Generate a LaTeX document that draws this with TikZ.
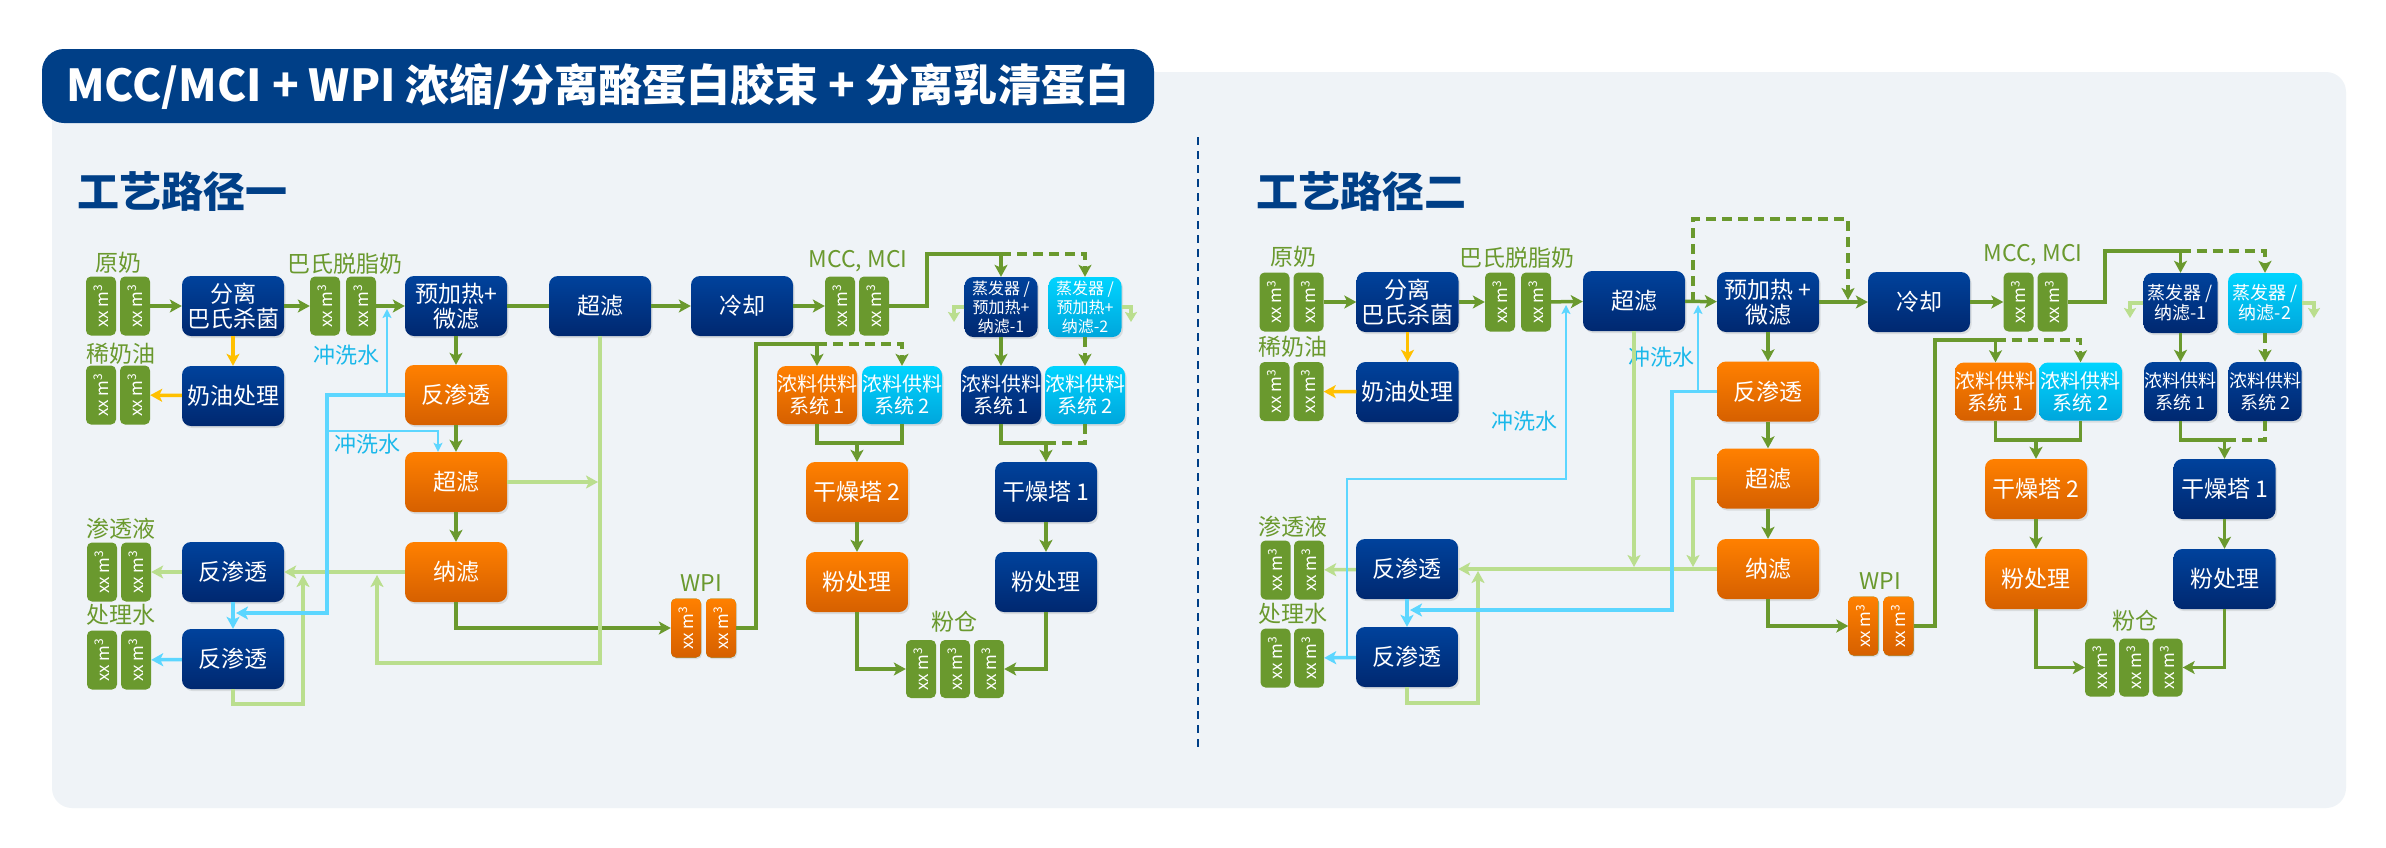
\documentclass[tikz,border=0pt]{standalone}
\usepackage{fontspec}
\usepackage{graphicx}
\setmainfont{Noto Sans CJK SC}
\usepackage{tikz}
\usetikzlibrary{positioning,arrows.meta,shadows}

\definecolor{navy}{RGB}{0,63,135}
\definecolor{boxtop}{RGB}{0,66,156}
\definecolor{boxbot}{RGB}{0,40,112}
\definecolor{ortop}{RGB}{255,128,0}
\definecolor{orbot}{RGB}{214,96,0}
\definecolor{cytop}{RGB}{0,212,255}
\definecolor{cybot}{RGB}{0,166,220}
\definecolor{leaf}{RGB}{106,153,46}
\definecolor{pale}{RGB}{186,222,142}
\definecolor{sky}{RGB}{92,214,255}
\definecolor{skytext}{RGB}{26,184,234}
\definecolor{amber}{RGB}{255,192,0}
\definecolor{panel}{RGB}{239,243,247}

\newcommand{\tankvol}{\rotatebox{90}{xx m\textsuperscript{3}}}

\tikzstyle{box} = [rectangle, rounded corners=9pt, align=center, text=white, inner sep=0pt, minimum width=102pt, minimum height=60pt, font=\fontsize{23}{25}\selectfont, drop shadow={shadow xshift=1.5pt, shadow yshift=-2pt, opacity=0.2}]
\tikzstyle{navybox} = [box, top color=boxtop, bottom color=boxbot]
\tikzstyle{orangebox} = [box, top color=ortop, bottom color=orbot]
\tikzstyle{cyanbox} = [box, top color=cytop, bottom color=cybot]
\tikzstyle{evap} = [minimum width=73pt, font=\fontsize{16}{19}\selectfont]
\tikzstyle{evaptwo} = [minimum width=74pt, font=\fontsize{18}{20}\selectfont]
\tikzstyle{feed} = [minimum width=80pt, minimum height=58pt, font=\fontsize{20}{22}\selectfont]
\tikzstyle{feedsmall} = [minimum width=73pt, minimum height=59pt, font=\fontsize{18}{22}\selectfont]
\tikzstyle{tank} = [rectangle, rounded corners=5pt, fill=leaf, text=white, minimum width=30pt, minimum height=59pt, inner sep=0pt, font=\fontsize{17}{17}\selectfont]
\tikzstyle{otank} = [tank, top color=ortop, bottom color=orbot, drop shadow={shadow xshift=1pt, shadow yshift=-1.5pt, opacity=0.2}]
\tikzstyle{tag} = [text=leaf, inner sep=0pt, font=\fontsize{23}{25}\selectfont]
\tikzstyle{wash} = [text=skytext, inner sep=0pt, font=\fontsize{22}{24}\selectfont]
\tikzstyle{head} = [text=navy, inner sep=0pt, font=\fontsize{42}{46}\selectfont\bfseries]
\tikzstyle{pipe} = [draw=leaf, line width=3.5pt]
\tikzstyle{flow} = [pipe, -{Stealth[length=12pt,width=13pt,inset=3pt]}]
\tikzstyle{dpipe} = [pipe, dash pattern=on 10pt off 6pt]
\tikzstyle{dflow} = [flow, dash pattern=on 10pt off 6pt]
\tikzstyle{back} = [draw=pale, line width=3.5pt, -{Stealth[length=12pt,width=13pt,inset=3pt]}]
\tikzstyle{drain} = [draw=pale, line width=3.5pt, -{Stealth[length=10pt,width=12pt,inset=2pt]}]
\tikzstyle{water} = [draw=sky, line width=3.5pt, -{Stealth[length=12pt,width=13pt,inset=3pt]}]
\tikzstyle{rinse} = [draw=sky, line width=2pt, -{Stealth[length=9pt,width=9pt,inset=2pt]}]
\tikzstyle{cream} = [draw=amber, line width=3.5pt, -{Stealth[length=12pt,width=13pt,inset=3pt]}]

\begin{document}
\begin{tikzpicture}[x=1pt, y=-1pt]
	\useasboundingbox (0,0) rectangle (2386,847);
	\fill [white] (0,0) rectangle (2386,847);
	\fill [panel, rounded corners=20pt] (52,72) rectangle (2346,808);
	\node (title) [fill=navy, rounded corners=22pt, minimum width=1112pt, minimum height=74pt, inner sep=0pt, text=white, font=\fontsize{44}{48}\selectfont\bfseries] at (598,86) {MCC/MCI + WPI 浓缩/分离酪蛋白胶束 + 分离乳清蛋白};
	\draw [navy, line width=2pt, dash pattern=on 8pt off 6pt] (1198,137) -- (1198,750);

	% route one
	\node (h1) [head, anchor=west] at (77,192) {工艺路径一};
	\node (a_raw1) [tank] at (101,306) {\tankvol};
	\node (a_raw2) [tank] at (135,306) {\tankvol};
	\node (a_rawlbl) [tag] at (118,263) {原奶};
	\node (a_sep) [navybox] at (233,306) {分离\\巴氏杀菌};
	\node (a_skim1) [tank] at (325,306) {\tankvol};
	\node (a_skim2) [tank] at (361,306) {\tankvol};
	\node (a_skimlbl) [tag] at (345,264) {巴氏脱脂奶};
	\node (a_mf) [navybox] at (456,306) {预加热+\\微滤};
	\node (a_uf) [navybox] at (600,306) {超滤};
	\node (a_cool) [navybox] at (742,306) {冷却};
	\node (a_mcc1) [tank] at (840,306) {\tankvol};
	\node (a_mcc2) [tank] at (874,306) {\tankvol};
	\node (a_mcclbl) [tag] at (858,261) {MCC, MCI};
	\node (a_ev1) [navybox, evap] at (1001,307) {蒸发器 /\\预加热+\\纳滤-1};
	\node (a_ev2) [cyanbox, evap] at (1085,307) {蒸发器 /\\预加热+\\纳滤-2};
	\node (a_crmp) [navybox] at (233,396) {奶油处理};
	\node (a_crm1) [tank] at (101,395) {\tankvol};
	\node (a_crm2) [tank] at (135,395) {\tankvol};
	\node (a_crmlbl) [tag] at (121,354) {稀奶油};
	\node (a_wash1) [wash] at (346,355) {冲洗水};
	\node (a_ro) [orangebox] at (456,395) {反渗透};
	\node (a_uf2) [orangebox] at (456,482) {超滤};
	\node (a_nf) [orangebox] at (456,572) {纳滤};
	\node (a_wash2) [wash] at (367,444) {冲洗水};
	\node (a_ro1) [navybox] at (233,572) {反渗透};
	\node (a_ro2) [navybox] at (233,659) {反渗透};
	\node (a_perm1) [tank] at (102,572) {\tankvol};
	\node (a_perm2) [tank] at (136,572) {\tankvol};
	\node (a_permlbl) [tag] at (121,529) {渗透液};
	\node (a_tw1) [tank] at (102,660) {\tankvol};
	\node (a_tw2) [tank] at (136,660) {\tankvol};
	\node (a_twlbl) [tag] at (121,615) {处理水};
	\node (a_wpi1) [otank] at (686,628) {\tankvol};
	\node (a_wpi2) [otank] at (721,628) {\tankvol};
	\node (a_wpilbl) [tag] at (701,583) {WPI};
	\node (a_cf1) [orangebox, feed] at (817,395) {浓料供料\\系统 1};
	\node (a_cf2) [cyanbox, feed] at (902,395) {浓料供料\\系统 2};
	\node (a_cf3) [navybox, feed, minimum width=72pt] at (1001,395) {浓料供料\\系统 1};
	\node (a_cf4) [cyanbox, feed, minimum width=72pt] at (1085,395) {浓料供料\\系统 2};
	\node (a_dry2) [orangebox] at (857,492) {干燥塔 2};
	\node (a_pow2) [orangebox] at (857,582) {粉处理};
	\node (a_dry1) [navybox] at (1046,492) {干燥塔 1};
	\node (a_pow1) [navybox] at (1046,582) {粉处理};
	\node (a_silo1) [tank, minimum height=58pt] at (921,669) {\tankvol};
	\node (a_silo2) [tank, minimum height=58pt] at (955,669) {\tankvol};
	\node (a_silo3) [tank, minimum height=58pt] at (989,669) {\tankvol};
	\node (a_silolbl) [tag] at (954,622) {粉仓};

	\coordinate (a_j1) at (1001,254);
	\coordinate (a_j2) at (1046,443);
	\coordinate (a_j3) at (857,443);
	\coordinate (a_j4) at (817,344);
	\coordinate (a_j5) at (377,575);
	\coordinate (a_j6) at (598,482);
	\coordinate (a_j7) at (303,575);
	\coordinate (a_j8) at (236,613);
	\coordinate (a_j9) at (387,395);
	\coordinate (a_j10) at (387,309);
	\coordinate (a_j11) at (327,431);
	\coordinate (a_out1) at (954,322);
	\coordinate (a_out2) at (1131,322);

	\draw [flow] (a_raw2) -- (a_sep);
	\draw [flow] (a_sep) -- (a_skim1);
	\draw [flow] (a_skim2) -- (a_mf);
	\draw [pipe] (a_mf) -- (a_uf);
	\draw [flow] (a_uf) -- (a_cool);
	\draw [flow] (a_cool) -- (a_mcc1);
	\draw [flow] (a_mcc2.east) -- (927,306) -- (927,254) -| (a_ev1.north);
	\draw [dflow] (a_j1) -| (a_ev2.north);
	\draw [drain] (a_ev1.west) -| (a_out1);
	\draw [drain] (a_ev2.east) -| (a_out2);
	\draw [flow] (a_ev1) -- (a_cf3);
	\draw [dflow] (a_ev2) -- (a_cf4);
	\draw [flow] (a_cf3.south) |- (a_j2) -- (a_dry1.north);
	\draw [dpipe] (a_cf4.south) |- (a_j2);
	\draw [pipe] (a_cf1.south) |- (a_j3) -| (a_cf2.south);
	\draw [flow] (a_j3) -- (a_dry2);
	\draw [flow] (a_dry2) -- (a_pow2);
	\draw [flow] (a_dry1) -- (a_pow1);
	\draw [flow] (a_pow2) |- (a_silo1);
	\draw [flow] (a_pow1) |- (a_silo3);
	\draw [flow] (a_nf) |- (a_wpi1);
	\draw [flow] (a_wpi2.east) -- (756,628) -- (756,344) -| (a_cf1.north);
	\draw [dflow] (a_j4) -| (a_cf2.north);
	\draw [flow] (a_mf) -- (a_ro);
	\draw [flow] (a_ro) -- (a_uf2);
	\draw [flow] (a_uf2) -- (a_nf);
	\draw [cream] (a_sep) -- (a_crmp);
	\draw [cream] (a_crmp) -- (a_crm2);
	\draw [back] (a_uf.south) -- (600,663) -| (a_j5);
	\draw [back] (a_uf2) -- (a_j6);
	\draw [back] (a_nf) -- (a_ro1);
	\draw [back] (a_ro2.south) -- (233,704) -| (a_j7);
	\draw [back] (a_ro1) -- (a_perm2);
	\draw [water] (a_ro2) -- (a_tw2);
	\draw [water] (a_ro1) -- (a_ro2);
	\draw [water] (a_ro.west) -| (327,613) -- (a_j8);
	\draw [rinse] (a_j9) -- (a_j10);
	\draw [rinse] (a_j11) -| ([xshift=-18pt]a_uf2.north);

	% route two
	\node (h2) [head, anchor=west] at (1256,192) {工艺路径二};
	\node (b_raw1) [tank] at (1274.5,302) {\tankvol};
	\node (b_raw2) [tank] at (1308.5,302) {\tankvol};
	\node (b_rawlbl) [tag] at (1293,257) {原奶};
	\node (b_sep) [navybox] at (1407.5,302) {分离\\巴氏杀菌};
	\node (b_skim1) [tank] at (1500,302) {\tankvol};
	\node (b_skim2) [tank] at (1536,302) {\tankvol};
	\node (b_skimlbl) [tag] at (1517,258) {巴氏脱脂奶};
	\node (b_uf) [navybox] at (1634,301) {超滤};
	\node (b_mf) [navybox] at (1768,302) {预加热 +\\微滤};
	\node (b_cool) [navybox] at (1919,302) {冷却};
	\node (b_mcc1) [tank] at (2018.5,302) {\tankvol};
	\node (b_mcc2) [tank] at (2052.5,302) {\tankvol};
	\node (b_mcclbl) [tag] at (2033,255) {MCC, MCI};
	\node (b_ev1) [navybox, evaptwo] at (2180.5,303) {蒸发器 /\\纳滤-1};
	\node (b_ev2) [cyanbox, evaptwo] at (2265,303) {蒸发器 /\\纳滤-2};
	\node (b_crmp) [navybox] at (1407.5,392) {奶油处理};
	\node (b_crm1) [tank] at (1274.5,391.5) {\tankvol};
	\node (b_crm2) [tank] at (1308.5,391.5) {\tankvol};
	\node (b_crmlbl) [tag] at (1293,347) {稀奶油};
	\node (b_wash1) [wash] at (1524,421) {冲洗水};
	\node (b_wash2) [wash] at (1661,357) {冲洗水};
	\node (b_ro) [orangebox] at (1768,391.5) {反渗透};
	\node (b_uf2) [orangebox] at (1768,478.5) {超滤};
	\node (b_nf) [orangebox] at (1768,569) {纳滤};
	\node (b_ro1) [navybox] at (1407,569) {反渗透};
	\node (b_ro2) [navybox] at (1407,657) {反渗透};
	\node (b_perm1) [tank] at (1275.5,570) {\tankvol};
	\node (b_perm2) [tank] at (1309,570) {\tankvol};
	\node (b_permlbl) [tag] at (1293,527) {渗透液};
	\node (b_tw1) [tank] at (1275.5,658) {\tankvol};
	\node (b_tw2) [tank] at (1309,658) {\tankvol};
	\node (b_twlbl) [tag] at (1293,614) {处理水};
	\node (b_wpi1) [otank] at (1863.5,626) {\tankvol};
	\node (b_wpi2) [otank] at (1898.5,626) {\tankvol};
	\node (b_wpilbl) [tag] at (1880,581) {WPI};
	\node (b_cf1) [orangebox, feed, minimum width=81pt] at (1995.5,391.5) {浓料供料\\系统 1};
	\node (b_cf2) [cyanbox, feed, minimum width=83pt] at (2080.5,391.5) {浓料供料\\系统 2};
	\node (b_cf3) [navybox, feedsmall] at (2180.5,391.5) {浓料供料\\系统 1};
	\node (b_cf4) [navybox, feedsmall] at (2265,391.5) {浓料供料\\系统 2};
	\node (b_dry2) [orangebox] at (2036,489) {干燥塔 2};
	\node (b_pow2) [orangebox] at (2036,579) {粉处理};
	\node (b_dry1) [navybox] at (2224.5,489) {干燥塔 1};
	\node (b_pow1) [navybox] at (2224.5,579) {粉处理};
	\node (b_silo1) [tank, minimum height=58pt] at (2100,667.5) {\tankvol};
	\node (b_silo2) [tank, minimum height=58pt] at (2134,667.5) {\tankvol};
	\node (b_silo3) [tank, minimum height=58pt] at (2167.5,667.5) {\tankvol};
	\node (b_silolbl) [tag] at (2135,621) {粉仓};

	\coordinate (b_j1) at (2180.5,251);
	\coordinate (b_j2) at (2224.5,440);
	\coordinate (b_j3) at (2036,440);
	\coordinate (b_j4) at (1995.5,340);
	\coordinate (b_j5) at (1693,302);
	\coordinate (b_j6) at (1848,300);
	\coordinate (b_j7) at (1634,567);
	\coordinate (b_j8) at (1693,567);
	\coordinate (b_j9) at (1478,571);
	\coordinate (b_j10) at (1410,610);
	\coordinate (b_j11) at (1698,391.5);
	\coordinate (b_j12) at (1698,305);
	\coordinate (b_j13) at (1347,658);
	\coordinate (b_j14) at (1566,305);
	\coordinate (b_out1) at (2130,318);
	\coordinate (b_out2) at (2314,318);

	\draw [flow] (b_raw2) -- (b_sep);
	\draw [flow] (b_sep) -- (b_skim1);
	\draw [flow] (b_skim2) -- (b_uf);
	\draw [flow] (b_uf) -- (b_mf);
	\draw [flow] (b_mf) -- (b_cool);
	\draw [flow] (b_cool) -- (b_mcc1);
	\draw [dflow] (b_j5) |- (1848,219) -- (b_j6);
	\draw [flow] (b_mcc2.east) -- (2105,302) -- (2105,251) -| (b_ev1.north);
	\draw [dflow] (b_j1) -| (b_ev2.north);
	\draw [drain] (b_ev1.west) -| (b_out1);
	\draw [drain] (b_ev2.east) -| (b_out2);
	\draw [flow] (b_ev1) -- (b_cf3);
	\draw [dflow] (b_ev2) -- (b_cf4);
	\draw [flow] (b_cf3.south) |- (b_j2) -- (b_dry1.north);
	\draw [dpipe] (b_cf4.south) |- (b_j2);
	\draw [pipe] (b_cf1.south) |- (b_j3) -| (b_cf2.south);
	\draw [flow] (b_j3) -- (b_dry2);
	\draw [flow] (b_dry2) -- (b_pow2);
	\draw [flow] (b_dry1) -- (b_pow1);
	\draw [flow] (b_pow2) |- (b_silo1);
	\draw [flow] (b_pow1) |- (b_silo3);
	\draw [flow] (b_nf) |- (b_wpi1);
	\draw [flow] (b_wpi2.east) -- (1935,626) -- (1935,340) -| (b_cf1.north);
	\draw [dflow] (b_j4) -| (b_cf2.north);
	\draw [flow] (b_mf) -- (b_ro);
	\draw [flow] (b_ro) -- (b_uf2);
	\draw [flow] (b_uf2) -- (b_nf);
	\draw [cream] (b_sep) -- (b_crmp);
	\draw [cream] (b_crmp) -- (b_crm2);
	\draw [back] (b_uf) -- (b_j7);
	\draw [back] (b_uf2.west) -| (b_j8);
	\draw [back] (b_nf) -- (b_ro1);
	\draw [back] (b_ro2.south) -- (1407,703) -| (b_j9);
	\draw [back] (b_ro1) -- (b_perm2);
	\draw [water] (b_ro2) -- (b_tw2);
	\draw [water] (b_ro1) -- (b_ro2);
	\draw [water] (b_ro.west) -| (1672,610) -- (b_j10);
	\draw [rinse] (b_j11) -- (b_j12);
	\draw [rinse] (b_j13) -- (1347,479) -| (b_j14);
\end{tikzpicture}
\end{document}
